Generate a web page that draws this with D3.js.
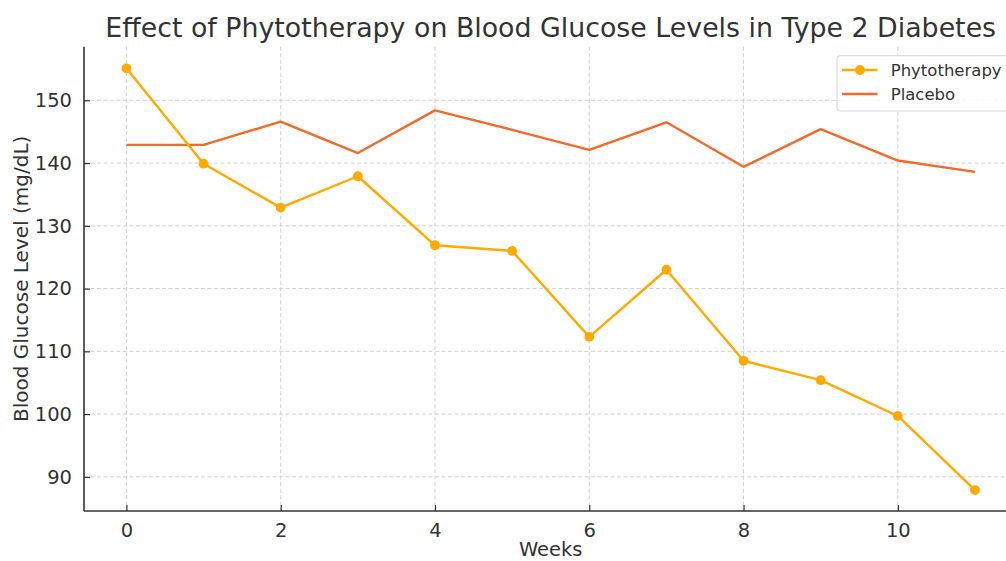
<!DOCTYPE html>
<html>
<head>
<meta charset="utf-8">
<script src="https://cdn.jsdelivr.net/npm/d3@7"></script>
<style>
  html, body { margin: 0; padding: 0; background: #fff; overflow: hidden; }
  svg { display: block; font-family: "DejaVu Sans", sans-serif; }
</style>
</head>
<body>
<svg id="chart" width="1006" height="561"></svg>
<script>
const weeks = [0, 1, 2, 3, 4, 5, 6, 7, 8, 9, 10, 11];
const phytotherapy = [155.1, 139.9, 132.9, 137.9, 126.9, 126.0, 112.3, 123.0, 108.5, 105.4, 99.7, 87.9];
const placebo = [142.9, 142.9, 146.6, 141.6, 148.4, 145.3, 142.1, 146.5, 139.4, 145.4, 140.4, 138.6];
const xTicks = [0, 2, 4, 6, 8, 10];
const yTicks = [90, 100, 110, 120, 130, 140, 150];
const seriesNames = ["Phytotherapy", "Placebo"];
const seriesColors = ["#FFAA00", "#F26A2A"];

(function () {
const svg = d3.select("#chart");
svg.append("rect").attr("width", 1006).attr("height", 561).attr("fill", "#fff");

const pLeft = 84, pRight = 1017.4, pTop = 46.7, pBottom = 511;
const x = d3.scaleLinear().domain([-0.55, 11.55]).range([pLeft, pRight]);
const y = d3.scaleLinear().domain([84.56, 158.54]).range([pBottom, pTop]);

const textColor = "#333333";

// Grid
const grid = svg.append("g");
grid.selectAll("line.v").data(xTicks).enter().append("line")
  .attr("x1", d => x(d)).attr("x2", d => x(d)).attr("y1", pTop).attr("y2", pBottom)
  .attr("stroke", "#cccccc").attr("stroke-width", 0.9).attr("stroke-dasharray", "4,2.5");
grid.selectAll("line.h").data(yTicks).enter().append("line")
  .attr("x1", pLeft).attr("x2", pRight).attr("y1", d => y(d)).attr("y2", d => y(d))
  .attr("stroke", "#cccccc").attr("stroke-width", 0.9).attr("stroke-dasharray", "4,2.5");

// Axes
const xAxis = d3.axisBottom(x).tickValues(xTicks).tickSizeInner(-6).tickSizeOuter(0).tickPadding(12);
const yAxis = d3.axisLeft(y).tickValues(yTicks).tickSizeInner(-6).tickSizeOuter(0).tickPadding(12);

const gx = svg.append("g").attr("transform", `translate(0,${pBottom})`).call(xAxis);
const gy = svg.append("g").attr("transform", `translate(${pLeft},0)`).call(yAxis);
[gx, gy].forEach(g => {
  g.select(".domain").remove();
  g.selectAll(".tick line").attr("stroke", textColor).attr("stroke-width", 1.2);
  g.selectAll(".tick text").attr("fill", textColor).style("font-size", "19.5px").style("font-family", "DejaVu Sans");
});

// Spines
svg.append("line").attr("x1", pLeft).attr("x2", pLeft).attr("y1", pTop).attr("y2", pBottom)
  .attr("stroke", textColor).attr("stroke-width", 1.6);
svg.append("line").attr("x1", pLeft).attr("x2", pRight).attr("y1", pBottom).attr("y2", pBottom)
  .attr("stroke", textColor).attr("stroke-width", 1.6);

// Lines
const line = d3.line().x((d, i) => x(weeks[i])).y(d => y(d));
svg.append("path").datum(placebo).attr("d", line)
  .attr("fill", "none").attr("stroke", seriesColors[1]).attr("stroke-width", 2.4).attr("stroke-linejoin", "round");
svg.append("path").datum(phytotherapy).attr("d", line)
  .attr("fill", "none").attr("stroke", seriesColors[0]).attr("stroke-width", 2.4).attr("stroke-linejoin", "round");
svg.append("g").selectAll("circle").data(phytotherapy).enter().append("circle")
  .attr("cx", (d, i) => x(weeks[i])).attr("cy", d => y(d)).attr("r", 4.9)
  .attr("fill", seriesColors[0]);

// Title
svg.append("text").attr("x", (pLeft + pRight) / 2).attr("y", 37)
  .attr("text-anchor", "middle").attr("fill", textColor)
  .style("font-size", "26.8px").text("Effect of Phytotherapy on Blood Glucose Levels in Type 2 Diabetes");

// Axis labels
svg.append("text").attr("x", (pLeft + pRight) / 2).attr("y", 556)
  .attr("text-anchor", "middle").attr("fill", textColor)
  .style("font-size", "19.5px").text("Weeks");
svg.append("text").attr("transform", `translate(28,${(pTop + pBottom) / 2}) rotate(-90)`)
  .attr("text-anchor", "middle").attr("fill", textColor)
  .style("font-size", "20px").text("Blood Glucose Level (mg/dL)");

// Legend
const lg = svg.append("g");
lg.append("rect").attr("x", 837).attr("y", 55.7).attr("width", 200).attr("height", 55.3)
  .attr("rx", 3).attr("fill", "#fff").attr("fill-opacity", 0.85)
  .attr("stroke", "#d5d5d5").attr("stroke-width", 1);
const rows = [70, 94];
seriesNames.forEach((name, i) => {
  lg.append("line").attr("x1", 842).attr("x2", 877.5).attr("y1", rows[i]).attr("y2", rows[i])
    .attr("stroke", seriesColors[i]).attr("stroke-width", 2.4);
  if (i === 0) {
    lg.append("circle").attr("cx", 860).attr("cy", rows[i]).attr("r", 4.9).attr("fill", seriesColors[i]);
  }
  lg.append("text").attr("x", 890.7).attr("y", rows[i]).attr("dy", "0.35em")
    .attr("fill", textColor).style("font-size", "16.5px").text(name);
});
})();
</script>
</body>
</html>
